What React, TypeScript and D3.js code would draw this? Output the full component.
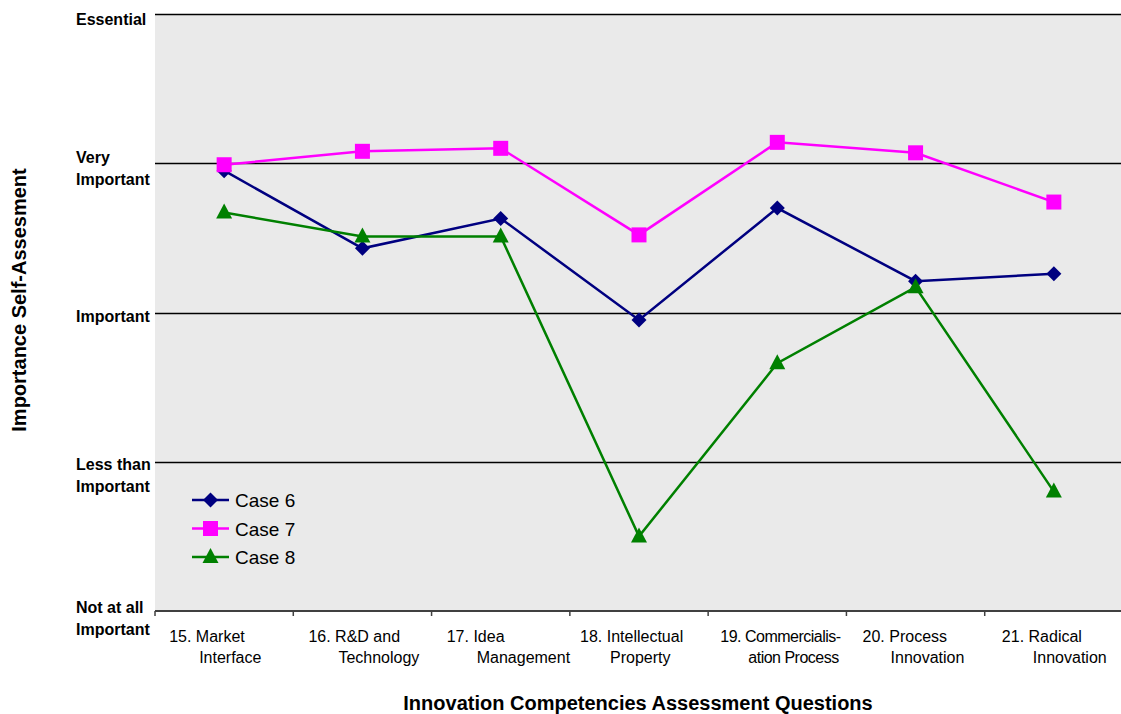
import React from "react";
import * as d3 from "d3";

// Innovation competency questions (two display lines each)
const categories: string[][] = [
  ["15. Market", "Interface"],
  ["16. R&D and", "Technology"],
  ["17. Idea", "Management"],
  ["18. Intellectual", "Property"],
  ["19. Commercialis-", "ation Process"],
  ["20. Process", "Innovation"],
  ["21. Radical", "Innovation"],
];

// Self-assessment scores (1 = Not at all Important ... 5 = Essential)
const case6: number[] = [3.95, 3.43, 3.63, 2.95, 3.70, 3.21, 3.26];
const case7: number[] = [3.99, 4.08, 4.10, 3.52, 4.14, 4.07, 3.74];
const case8: number[] = [3.67, 3.51, 3.51, 1.50, 2.66, 3.17, 1.80];

const levelValues: number[] = [1, 2, 3, 4, 5];
const levelLabels: string[][] = [
  ["Not at all", "Important"],
  ["Less than", "Important"],
  ["Important"],
  ["Very", "Important"],
  ["Essential"],
];

const seriesNames = ["Case 6", "Case 7", "Case 8"];

// Layout tweaks for the wrapped labels
const levelBaselineShift = [2, 8, 9, 0, 11];
const catLine1Shift = [-55, -54, -54, -59, -57, -53, -52];
const catLine2Shift = [-25, -24, -24, -29, -29, -25, -21];
// tighter tracking for the longest label so it does not run into its neighbour
const catTracking = [0, 0, 0, 0, -0.5, 0, 0];

const W = 1121;
const H = 714;
const plot = { left: 155, right: 1123, top: 14, bottom: 611 };
const FONT = "'Liberation Sans', Arial, Helvetica, sans-serif";

type Shape = "diamond" | "square" | "triangle";
const styles: { color: string; shape: Shape }[] = [
  { color: "#000080", shape: "diamond" },
  { color: "#FF00FF", shape: "square" },
  { color: "#008000", shape: "triangle" },
];

function Marker({ shape, color, x, y }: { shape: Shape; color: string; x: number; y: number }) {
  if (shape === "diamond") {
    const s = 7.5;
    return <path d={`M${x},${y - s}L${x + s},${y}L${x},${y + s}L${x - s},${y}Z`} fill={color} />;
  }
  if (shape === "square") {
    const s = 7.5;
    return <rect x={x - s} y={y - s} width={2 * s} height={2 * s} fill={color} />;
  }
  return <path d={`M${x},${y - 9}L${x + 8},${y + 6}L${x - 8},${y + 6}Z`} fill={color} />;
}

export default function App() {
  const idx = categories.map((_, i) => String(i));
  const x = d3.scaleBand<string>().domain(idx).range([plot.left, plot.right]).padding(0);
  const y = d3.scaleLinear().domain([1, 5]).range([plot.bottom, plot.top]);
  const cx = (i: number) => (x(String(i)) as number) + x.bandwidth() / 2;
  const line = d3
    .line<number>()
    .x((_, i) => cx(i))
    .y((d) => y(d));

  const data = [case6, case7, case8];
  const tickXs = d3.range(categories.length + 1).map((i) => plot.left + i * x.bandwidth());

  return (
    <div style={{ position: "absolute", left: 0, top: 0 }}>
      <svg width={W} height={H} style={{ display: "block", fontFamily: FONT }}>
        <rect x={0} y={0} width={W} height={H} fill="#ffffff" />
        <rect
          x={plot.left}
          y={plot.top}
          width={plot.right - plot.left}
          height={plot.bottom - plot.top}
          fill="#EAEAEA"
        />
        {levelValues.slice(1).map((v) => (
          <line
            key={v}
            x1={plot.left}
            x2={plot.right}
            y1={Math.round(y(v)) + 0.5}
            y2={Math.round(y(v)) + 0.5}
            stroke="#000"
            strokeWidth={1.3}
          />
        ))}
        {/* category axis */}
        <line x1={plot.left} x2={plot.right} y1={plot.bottom} y2={plot.bottom} stroke="#404040" strokeWidth={2} />
        {tickXs.map((tx, i) => (
          <line key={i} x1={tx} x2={tx} y1={plot.bottom} y2={plot.bottom + 5} stroke="#404040" strokeWidth={1.5} />
        ))}
        {/* level labels */}
        {levelValues.map((v, i) => (
          <text key={v} fontSize={16} fontWeight="bold" fill="#000">
            {levelLabels[i].map((t, j) => (
              <tspan key={j} x={76} y={y(v) + levelBaselineShift[i] + j * 22}>
                {t}
              </tspan>
            ))}
          </text>
        ))}
        {/* category labels */}
        {categories.map((c, i) => (
          <text key={i} fontSize={16} fill="#000" letterSpacing={catTracking[i]}>
            <tspan x={cx(i) + catLine1Shift[i]} y={641.5}>
              {c[0]}
            </tspan>
            <tspan x={cx(i) + catLine2Shift[i]} y={662.5}>
              {c[1]}
            </tspan>
          </text>
        ))}
        {/* series */}
        {data.map((vals, s) => (
          <g key={s}>
            <path d={line(vals) as string} fill="none" stroke={styles[s].color} strokeWidth={2.5} />
            {vals.map((v, i) => (
              <Marker key={i} shape={styles[s].shape} color={styles[s].color} x={cx(i)} y={y(v)} />
            ))}
          </g>
        ))}
        {/* legend */}
        {seriesNames.map((n, i) => {
          const ly = 500 + i * 28.5;
          return (
            <g key={n}>
              <line x1={192} x2={229} y1={ly} y2={ly} stroke={styles[i].color} strokeWidth={2.5} />
              <Marker shape={styles[i].shape} color={styles[i].color} x={210.5} y={ly} />
              <text x={235} y={ly + 7} fontSize={19} fill="#000">
                {n}
              </text>
            </g>
          );
        })}
        {/* axis titles */}
        <text x={638} y={710} fontSize={20} fontWeight="bold" textAnchor="middle" fill="#000">
          Innovation Competencies Assessment Questions
        </text>
        <text
          transform={`translate(26,300) rotate(-90)`}
          fontSize={20}
          fontWeight="bold"
          textAnchor="middle"
          fill="#000"
        >
          Importance Self-Assesment
        </text>
      </svg>
    </div>
  );
}
